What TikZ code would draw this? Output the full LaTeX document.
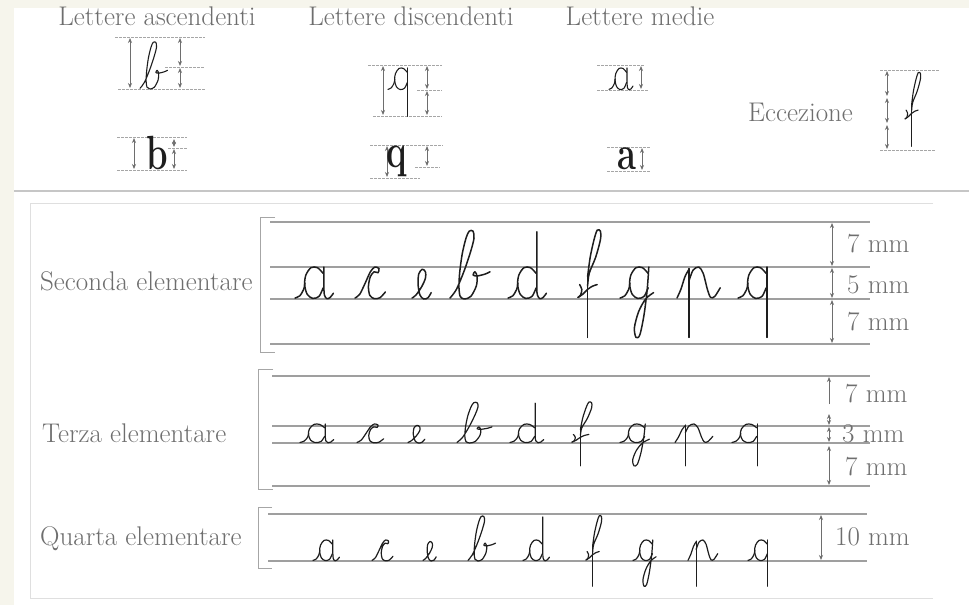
\documentclass[tikz,border=0pt]{standalone}
\usepackage{fontspec}
\usepackage{tikz}
\usetikzlibrary{arrows.meta}
\definecolor{crema}{RGB}{246,245,236}
\definecolor{grigio}{RGB}{110,110,110}
\definecolor{inchiostro}{RGB}{30,30,30}
\newcommand{\testo}{\fontsize{27}{30}\selectfont}
\newcommand{\stampa}[1]{\scalebox{0.72}[1]{\fontsize{48}{50}\selectfont\bfseries #1}}
% bowl shared by a, d, g, q
\newcommand{\occhio}{%
  \draw plot[smooth] coordinates {(0,0.03) (0.15,0.1) (0.27,0.3) (0.31,0.5)};
  \draw plot[smooth] coordinates {(0.88,0.8) (0.7,0.98) (0.5,0.98) (0.34,0.75) (0.3,0.45) (0.38,0.15) (0.55,0.02) (0.75,0.08) (0.88,0.35)};}
\tikzset{
  pics/la/.style={code={\occhio
    \draw plot[smooth] coordinates {(0.9,1.0) (0.9,0.45) (0.92,0.12) (1.0,0.01) (1.1,0.05) (1.2,0.18)};}},
  pics/ld/.style={code={\occhio
    \draw plot[smooth] coordinates {(0.9,2.1) (0.9,0.45) (0.92,0.12) (1.0,0.01) (1.1,0.05) (1.2,0.18)};}},
  pics/lq/.style={code={\occhio
    \draw (0.9,1.0) -- (0.9,-1.2);}},
  pics/lg/.style={code={\occhio
    \draw plot[smooth] coordinates {(0.9,1.0) (0.85,0.3) (0.75,-0.5) (0.62,-1.12) (0.5,-1.2) (0.45,-0.9) (0.58,-0.4) (0.8,0) (1.05,0.2)};}},
  pics/lc/.style={code={
    \draw plot[smooth] coordinates {(0,0.03) (0.15,0.15) (0.32,0.5) (0.48,0.85) (0.62,1.0) (0.75,0.95) (0.72,0.82) (0.6,0.85) (0.48,0.7) (0.42,0.4) (0.46,0.12) (0.6,0.01) (0.78,0.04) (0.95,0.22)};}},
  pics/le/.style={code={
    \draw plot[smooth] coordinates {(0,0.03) (0.12,0.12) (0.3,0.38) (0.42,0.65) (0.42,0.85) (0.32,0.93) (0.21,0.78) (0.19,0.45) (0.25,0.12) (0.37,0.0) (0.5,0.04) (0.6,0.2)};}},
  pics/lb/.style={code={
    \draw plot[smooth] coordinates {(0,0.03) (0.2,0.3) (0.45,0.9) (0.65,1.5) (0.75,1.9) (0.72,2.12) (0.6,2.12) (0.5,1.9) (0.38,1.4) (0.3,0.8) (0.28,0.35) (0.32,0.08) (0.45,0.0) (0.65,0.08) (0.82,0.4) (0.85,0.7) (0.78,0.85) (0.72,0.75) (0.85,0.72) (1.1,0.78) (1.25,0.85)};}},
  pics/lf/.style={code={
    \draw (0.3,-1.2) -- (0.3,0.75);
    \draw plot[smooth] coordinates {(0.3,0.7) (0.38,1.3) (0.5,1.85) (0.6,2.15) (0.7,2.12) (0.7,1.85) (0.55,1.3) (0.35,0.8) (0.3,0.4)};
    \draw plot[smooth] coordinates {(0,0.05) (0.15,0.15) (0.3,0.3) (0.45,0.4) (0.6,0.45)};
    \draw plot[smooth] coordinates {(0.05,0.45) (0.12,0.3) (0.08,0.12) (0,0.05)};}},
  pics/lp/.style={code={
    \draw plot[smooth] coordinates {(0,0.03) (0.12,0.3) (0.25,0.7) (0.37,0.92)};
    \draw (0.37,0.95) -- (0.37,-1.2);
    \draw plot[smooth] coordinates {(0.37,0.55) (0.5,0.9) (0.68,1.0) (0.82,0.8) (0.95,0.3) (1.05,0.05) (1.18,0.08) (1.35,0.35)};}}
}

\begin{document}
\begin{tikzpicture}[x=1pt, y=-1pt, >={Stealth[length=5pt,width=4pt]},
    etichetta/.style={font=\testo, text=grigio, inner sep=0pt},
    stampato/.style={text=inchiostro, inner sep=0pt},
    riga/.style={draw=gray!75, line width=1.3pt},
    parentesi/.style={draw=gray!70, line width=1pt},
    quota/.style={draw=grigio, line width=0.8pt, <->},
    guida/.style={draw=gray!70, line width=0.7pt, dash pattern=on 2.5pt off 1.5pt},
    lettera/.style={inchiostro, line cap=round, line join=round},
    r1/.style={lettera, xscale=32, yscale=-32, line width=1.5pt},
    r2/.style={lettera, xscale=28, yscale=-19, line width=1.2pt},
    r3/.style={lettera, xscale=22, yscale=-21, line width=1.2pt},
    ex/.style={lettera, xscale=#1, yscale=-22, line width=1.1pt},
    ex/.default=22]
  \fill[crema] (0,0) rectangle (969,605);
  \fill[white] (14,8) rectangle (969,605);
  \useasboundingbox (0,0) rectangle (969,605);

  % top: examples
  \node[etichetta, anchor=base] (asc) at (157,25) {Lettere ascendenti};
  \node[etichetta, anchor=base] (disc) at (411,25) {Lettere discendenti};
  \node[etichetta, anchor=base] (med) at (640,25) {Lettere medie};

  \draw[guida] (115,37) -- (205,37);
  \draw[guida] (165,67) -- (205,67);
  \draw[guida] (118,89) -- (205,89);
  \draw[quota] (130,38) -- (130,88);
  \draw[quota] (180,38) -- (180,66);
  \draw[quota] (180,68) -- (180,88);
  \pic[ex] at (140,89) {lb};

  \draw[guida] (117,137) -- (187,137);
  \draw[guida] (168,148) -- (187,148);
  \draw[guida] (117,170) -- (187,170);
  \draw[quota] (134,138) -- (134,169);
  \draw[quota] (174,139) -- (174,147);
  \draw[quota] (174,149) -- (174,169);
  \node[stampato, anchor=base] (bst) at (157,169) {\stampa{b}};

  \draw[guida] (368,65) -- (442,65);
  \draw[guida] (417,90) -- (442,90);
  \draw[guida] (373,116) -- (442,116);
  \draw[quota] (383,66) -- (383,115);
  \draw[quota] (427,66) -- (427,89);
  \draw[quota] (427,91) -- (427,115);
  \pic[ex] at (388,90) {lq};

  \draw[guida] (370,145) -- (443,145);
  \draw[guida] (415,167) -- (440,167);
  \draw[guida] (370,178) -- (420,178);
  \draw[quota] (387,146) -- (387,177);
  \draw[quota] (427,146) -- (427,166);
  \node[stampato, anchor=base] (qst) at (397,167) {\stampa{q}};

  \draw[guida] (597,65) -- (645,65);
  \draw[guida] (597,90) -- (648,90);
  \draw[quota] (641,66) -- (641,89);
  \pic[ex=20] at (609,90) {la};

  \draw[guida] (607,147) -- (650,147);
  \draw[guida] (607,171) -- (650,171);
  \draw[quota] (642,148) -- (642,170);
  \node[stampato, anchor=base] (ast) at (627,169) {\stampa{a}};

  \node[etichetta, anchor=base west] (ecc) at (748,121) {Eccezione};
  \draw[guida] (880,70) -- (940,70);
  \draw[guida] (880,150) -- (935,150);
  \foreach \ya/\yb in {71/96, 98/123, 125/149}
    \draw[quota] (887,\ya) -- (887,\yb);
  \pic[ex] at (905,120) {lf};

  \draw[gray!45, line width=1.5pt] (14,191) -- (969,191);

  % bottom: the three classes
  \draw[gray!25, line width=1pt] (933,203) -- (30,203) -- (30,598) -- (933,598);

  \draw[parentesi] (275,217) -- (260,217) -- (260,352) -- (275,352);
  \foreach \y in {222,267,299,344}
    \draw[riga] (270,\y) -- (870,\y);
  \node[etichetta, anchor=base west] (sec) at (40,290) {Seconda elementare};
  \draw[quota] (832,223) -- (832,266);
  \draw[quota] (832,268) -- (832,298);
  \draw[quota] (832,300) -- (832,343);
  \node[etichetta, anchor=base west] (sec7a) at (847,252) {7 mm};
  \node[etichetta, anchor=base west] (sec5) at (847,293) {5 mm};
  \node[etichetta, anchor=base west] (sec7b) at (847,330) {7 mm};
  \foreach \l/\x in {la/295, lc/355, le/412, lb/450, ld/508, lf/578, lg/620, lp/677, lq/738}
    \pic[r1] at (\x,299) {\l};

  \draw[parentesi] (273,369) -- (258,369) -- (258,489) -- (273,489);
  \foreach \y in {376,426,443,486}
    \draw[riga] (272,\y) -- (870,\y);
  \node[etichetta, anchor=base west] (ter) at (42,442) {Terza elementare};
  \draw[quota, ->] (829,404) -- (829,377);
  \draw[quota] (829,414) -- (829,425);
  \draw[quota] (829,427) -- (829,442);
  \draw[quota] (829,446) -- (829,485);
  \node[etichetta, anchor=base west] (ter7a) at (845,402) {7 mm};
  \node[etichetta, anchor=base west] (ter3) at (842,442) {3 mm};
  \node[etichetta, anchor=base west] (ter7b) at (845,475) {7 mm};
  \foreach \l/\x in {la/300, lc/357, le/408, lb/457, ld/510, lf/572, lg/620, lp/675, lq/732}
    \pic[r2] at (\x,443) {\l};

  \draw[parentesi] (272,507) -- (258,507) -- (258,568) -- (272,568);
  \foreach \y in {514,561}
    \draw[riga] (268,\y) -- (867,\y);
  \node[etichetta, anchor=base west] (qua) at (40,545) {Quarta elementare};
  \draw[quota] (821,515) -- (821,560);
  \node[etichetta, anchor=base west] (qua10) at (835,545) {10 mm};
  \foreach \l/\x in {la/313, lc/372, le/423, lb/468, ld/523, lf/586, lg/633, lp/688, lq/748}
    \pic[r3] at (\x,561) {\l};
\end{tikzpicture}
\end{document}
